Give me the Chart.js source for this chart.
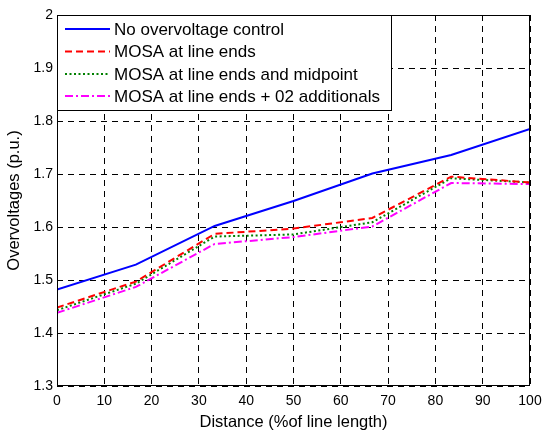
<!DOCTYPE html>
<html>
<head>
<meta charset="utf-8">
<script src="https://cdn.jsdelivr.net/npm/chart.js@4"></script>
<style>
  html, body { margin: 0; padding: 0; background: #fff; }
  #wrap { width: 542px; height: 432px; position: relative; }
</style>
</head>
<body>
<div id="wrap"><canvas id="c" width="542" height="432"></canvas></div>
<script>
const distances = [0, 16.67, 33.33, 50, 66.67, 83.33, 100];
const noControl = [1.482, 1.529, 1.602, 1.649, 1.701, 1.736, 1.785];
const mosaEnds = [1.448, 1.497, 1.587, 1.597, 1.617, 1.695, 1.684];
const mosaMid = [1.443, 1.493, 1.582, 1.586, 1.609, 1.692, 1.684];
const mosaTwo = [1.438, 1.487, 1.568, 1.581, 1.601, 1.683, 1.681];
const seriesLabels = ["No overvoltage control", "MOSA at line ends", "MOSA at line ends and midpoint", "MOSA at line ends + 02 additionals"];
const xTicks = [0, 10, 20, 30, 40, 50, 60, 70, 80, 90, 100];
const yTicks = [1.3, 1.4, 1.5, 1.6, 1.7, 1.8, 1.9, 2];

const FONT = "'Liberation Sans', Arial, sans-serif";
const pts = arr => distances.map((d, i) => ({x: d, y: arr[i]}));

const styles = [
  {color: '#0000ff', dash: []},
  {color: '#ff0000', dash: [7, 4]},
  {color: '#008000', dash: [2, 2.5]},
  {color: '#ff00ff', dash: [8, 3, 2, 3]}
];
const allData = [noControl, mosaEnds, mosaMid, mosaTwo];

const legendPlugin = {
  id: 'boxLegend',
  afterDatasetsDraw(chart) {
    const ctx = chart.ctx;
    const a = chart.chartArea;
    ctx.save();
    ctx.setLineDash([]);
    ctx.strokeStyle = '#000';
    ctx.lineWidth = 1;
    ctx.strokeRect(Math.round(a.left) + 0.5, Math.round(a.top) + 0.5, Math.round(a.right - a.left) - 1, Math.round(a.bottom - a.top) - 1);
    // legend box
    const lx = Math.round(a.left) + 0.5, ly = Math.round(a.top) + 0.5;
    const lw = 334, lh = 95;
    ctx.fillStyle = '#fff';
    ctx.fillRect(lx, ly, lw, lh);
    ctx.strokeRect(lx, ly, lw, lh);
    ctx.font = '17px ' + FONT;
    ctx.textBaseline = 'middle';
    const rows = [29, 51.5, 74, 96];
    chart.data.datasets.forEach((ds, i) => {
      const y = rows[i];
      ctx.beginPath();
      ctx.setLineDash(ds.borderDash || []);
      ctx.strokeStyle = ds.borderColor;
      ctx.lineWidth = 2;
      ctx.moveTo(a.left + 8, y);
      ctx.lineTo(a.left + 53, y);
      ctx.stroke();
      ctx.setLineDash([]);
      ctx.fillStyle = '#000';
      ctx.fillText(ds.label, a.left + 57, y + 1);
    });
    ctx.restore();
  }
};

new Chart(document.getElementById('c'), {
  type: 'line',
  data: {
    datasets: allData.map((arr, i) => ({
      label: seriesLabels[i],
      data: pts(arr),
      borderColor: styles[i].color,
      backgroundColor: styles[i].color,
      borderDash: styles[i].dash,
      borderWidth: 2,
      pointRadius: 0,
      tension: 0,
      fill: false
    }))
  },
  options: {
    responsive: false,
    animation: false,
    layout: {padding: {top: 15, right: 12, left: 0, bottom: 0}},
    plugins: {legend: {display: false}, tooltip: {enabled: false}},
    scales: {
      x: {
        type: 'linear', min: 0, max: 100,
        afterBuildTicks: s => { s.ticks = xTicks.map(v => ({value: v})); },
        afterFit: s => { s.height = 46; s.paddingLeft = 0; s.paddingRight = 0; },
        grid: {color: '#000', lineWidth: 1, drawTicks: false},
        border: {display: false, dash: [6, 5]},
        ticks: {color: '#000', font: {family: FONT, size: 14}, padding: 7, maxRotation: 0},
        title: {display: true, text: 'Distance (%of line length)', color: '#000', font: {family: FONT, size: 16.5}, padding: {top: 3, bottom: 0}}
      },
      y: {
        type: 'linear', min: 1.3, max: 2,
        afterBuildTicks: s => { s.ticks = yTicks.map(v => ({value: v})); },
        afterFit: s => { s.width = 57; s.paddingTop = 0; s.paddingBottom = 0; },
        grid: {color: '#000', lineWidth: 1, drawTicks: false},
        border: {display: false, dash: [6, 5]},
        ticks: {color: '#000', font: {family: FONT, size: 14}, padding: 4, callback: v => String(Math.round(v * 10) / 10)},
        title: {display: true, text: 'Overvoltages (p.u.)', color: '#000', font: {family: FONT, size: 16.5}, padding: {top: 5, bottom: 0}}
      }
    }
  },
  plugins: [legendPlugin]
});
</script>
</body>
</html>
